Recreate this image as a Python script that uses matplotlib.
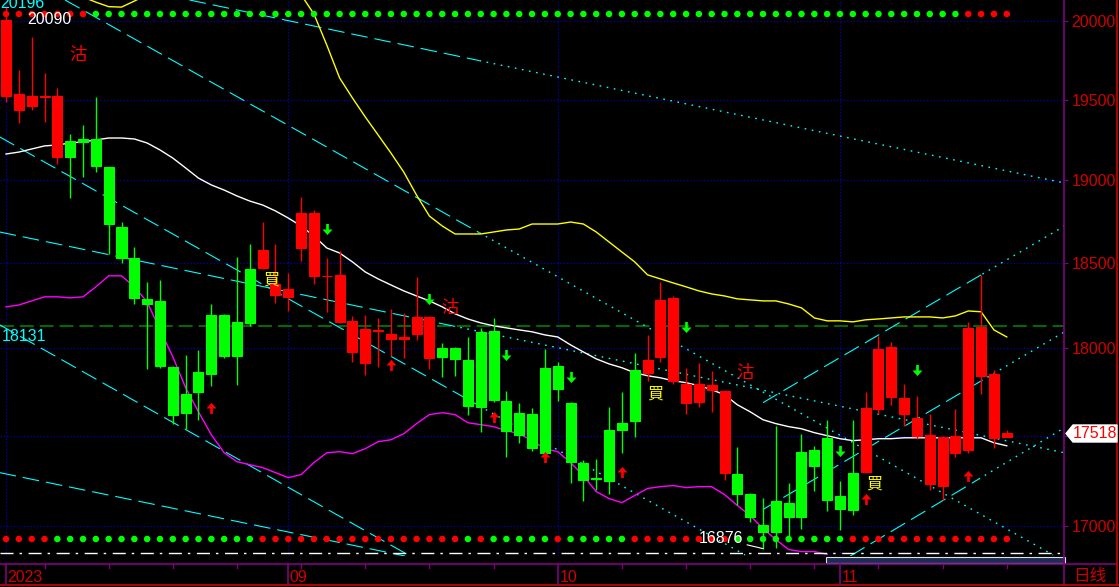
import matplotlib
matplotlib.use("Agg")
import matplotlib.pyplot as plt
import matplotlib.transforms as mtrans
import numpy as np
from matplotlib.lines import Line2D
from matplotlib.patches import Polygon, Rectangle
from matplotlib.path import Path
from matplotlib.ticker import FixedLocator, NullLocator, FuncFormatter

plt.rcParams["lines.scale_dashes"] = False

# ── 数据 ──────────────────────────────────────────────────────────────────────
opens = [19523, 19435, 19460, 19518, 19143, 19243, 19256, 19255, 19082, 18717,
         18532, 18289, 18277, 17893, 17739, 17865, 18195, 18195, 18154, 18466,
         18472, 18313, 18301, 18591, 18425, 18423, 18154, 17979, 17916, 18100,
         18055, 18055, 18084, 17945, 18002, 18002, 17934, 18096, 18101, 17699,
         17631, 17625, 17888, 17899, 17688, 17350, 17262, 17535, 17574, 17876,
         17859, 17951, 17813, 17688, 17694, 17762, 17294, 17289, 17178, 17007,
         17134, 17128, 17411, 17422, 17489, 17167, 17294, 17300, 17654, 17722,
         17625, 17501, 17233, 17222, 17405, 17422, 17842, 17489, 17495]
highs = [20090, 19687, 19897, 19668, 19574, 19286, 19342, 19517, 19082, 18747,
         18597, 18389, 18401, 17900, 17962, 17991, 18259, 18200, 18538, 18615,
         18747, 18615, 18442, 18898, 18820, 18532, 18573, 18189, 18195, 18177,
         18230, 18207, 18419, 18190, 18031, 18008, 18066, 18119, 18177, 17756,
         17688, 17659, 17996, 17922, 17694, 17366, 17372, 17665, 17751, 17974,
         18078, 18389, 18306, 17888, 17916, 17870, 17762, 17439, 17180, 17156,
         17557, 17239, 17512, 17445, 17591, 17250, 17591, 17751, 18072, 18037,
         17796, 17728, 17625, 17500, 17654, 18154, 18431, 17876, 17535]
lows = [19486, 19354, 19435, 19361, 19100, 18892, 19020, 19051, 18555, 18502,
        18259, 17882, 17888, 17569, 17541, 17591, 17785, 17945, 17791, 18131,
        18466, 18265, 18218, 18514, 18377, 18213, 18148, 17922, 17847, 17893,
        17956, 17945, 18049, 17882, 17836, 17842, 17620, 17523, 17694, 17383,
        17461, 17416, 17400, 17699, 17239, 17134, 17200, 17178, 17405, 17495,
        17813, 17922, 17796, 17625, 17665, 17636, 17255, 17112, 17024, 16876,
        16881, 16942, 16985, 17194, 17079, 16980, 17057, 17290, 17625, 17676,
        17557, 17484, 17200, 17145, 17383, 17405, 17739, 17433, 17495]
closes = [20006, 19536, 19523, 19522, 19523, 19143, 19237, 19088, 18735, 18532,
          18295, 18259, 17899, 17620, 17631, 17751, 17853, 17956, 17956, 18148,
          18579, 18377, 18348, 18802, 18802, 18427, 18431, 18160, 18113, 18104,
          18084, 18067, 18183, 18183, 17951, 17939, 17671, 17665, 17705, 17529,
          17506, 17433, 17405, 17768, 17355, 17255, 17258, 17250, 17535, 17586,
          17934, 18283, 18295, 17796, 17796, 17791, 17756, 17178, 17046, 16964,
          16969, 17046, 17046, 17333, 17145, 17090, 17085, 17659, 17996, 18008,
          17716, 17603, 17506, 17495, 17501, 18119, 18125, 17853, 17518]

ma_white = [19162, 19174, 19193, 19212, 19218, 19230, 19237, 19249, 19261, 19261,
            19255, 19230, 19187, 19137, 19076, 19014, 18972, 18941, 18905, 18874,
            18850, 18814, 18771, 18723, 18663, 18591, 18561, 18508, 18448, 18407,
            18371, 18336, 18306, 18277, 18242, 18201, 18171, 18148, 18131, 18119,
            18107, 18096, 18078, 18066, 18020, 17979, 17939, 17910, 17888, 17859,
            17842, 17830, 17813, 17802, 17785, 17762, 17733, 17676, 17636, 17591,
            17569, 17552, 17540, 17518, 17501, 17484, 17473, 17478, 17484, 17484,
            17489, 17489, 17489, 17489, 17489, 17489, 17489, 17461, 17444]
ma_yellow = [20300, 20280, 20260, 20240, 20220, 20190, 20155, 20122, 20093, 20090,
             20129, 20170, 20200, 20220, 20230, 20240, 20250, 20260, 20270, 20270,
             20260, 20250, 20220, 20170, 20045, 19846, 19637, 19511, 19392, 19280,
             19168, 19051, 18910, 18783, 18723, 18675, 18675, 18675, 18687, 18699,
             18705, 18735, 18735, 18735, 18747, 18735, 18687, 18627, 18567, 18508,
             18431, 18407, 18383, 18360, 18336, 18318, 18306, 18289, 18283, 18277,
             18277, 18259, 18236, 18177, 18160, 18160, 18154, 18166, 18171, 18177,
             18183, 18183, 18183, 18177, 18189, 18218, 18213, 18107, 18066]
ma_magenta = [18242, 18253, 18277, 18301, 18301, 18295, 18301, 18360, 18425, 18425,
              18360, 18271, 18107, 17951, 17773, 17636, 17506, 17405, 17355, 17338,
              17322, 17294, 17266, 17283, 17350, 17405, 17411, 17400, 17428, 17467,
              17478, 17512, 17569, 17620, 17631, 17620, 17574, 17563, 17552, 17529,
              17512, 17473, 17428, 17411, 17350, 17277, 17189, 17150, 17128, 17167,
              17206, 17216, 17222, 17211, 17216, 17216, 17172, 17112, 17057, 16985,
              16926, 16871, 16860, 16860, 16845] + [np.nan] * 14

top_signal = "R" * 7 + "G" * 68 + "R" * 4
bottom_signal = ("R" * 4 + "G" * 16 + "R" * 16 + "G" + "R" + "G" * 5 + "R"
                 + "G" * 5 + "R" * 8 + "G" * 9 + "R" * 13)

# 趋势线: (起点序号, 起点价, 终点序号, 终点价, 虚线止于序号)
trend_lines = [
    (4.6, 20136, 81.6, 16842, 36.9),
    (14.3, 20136, 82.5, 18984, 36.9),
    (-0.5, 19268, 57.6, 16842, 36.9),
    (-0.5, 18687, 82.5, 17405, 35.4),
    (-0.5, 17294, 31.1, 16836, None),
    (-0.5, 18137, 31.5, 16836, None),
    (59.0, 17688, 82.5, 18723, 76.1),
    (59.0, 17090, 82.5, 18096, 76.0),
    (65.8, 16836, 82.5, 17546, 75.8),
]

up_idx = [16, 30, 38, 42, 48, 67, 75]
up_price = [17659, 17905, 17608, 17383, 17300, 17150, 17277]
down_idx = [25, 33, 39, 44, 53, 65, 71]
down_price = [18705, 18289, 17962, 17836, 18125, 17416, 17876]

sell_pos = [(5.6, 19783), (34.6, 18236), (57.6, 17859)]
buy_pos = [(20.65, 18401), (50.6, 17739), (67.65, 17233)]

price_levels = [17000, 17500, 18000, 18500, 19000, 19500, 20000]
ref_level = 18131
last_price = closes[-1]
low_mark = (59, 16876)
high_mark = 20090
month_idx = [0, 22, 43, 65]
month_labels = ["2023", "09", "10", "11"]
week_idx = [3, 8, 13, 18, 23, 28, 33, 38, 48, 53, 58, 63, 68, 73, 78]

# ── 样式 ──────────────────────────────────────────────────────────────────────
RED = "#ff0000"
GREEN = "#00ff00"
CYAN = "#00ffff"
PURPLE = "#800080"
AXRED = "#d00000"
BLUE = "#0000e0"
NUM = ["Liberation Sans", "DejaVu Sans"]
CJK = ["Noto Sans CJK SC", "DejaVu Sans"]
NSIZE = 11.5

W, H = 1119, 587
PR, PB = 1064, 556

fig = plt.figure(figsize=(W / 100, H / 100), dpi=100, facecolor="black")
ax = fig.add_axes([0, 1 - PB / H, PR / W, PB / H], facecolor="black")
ax.set_yscale("log")
for s in ax.spines.values():
    s.set_visible(False)


def fp(x, y):
    return x / W, 1 - y / H


n = len(closes)
xs = np.arange(n)

# 网格
for lv in price_levels:
    ax.axhline(lv, color=BLUE, lw=0.8, ls=(0, (0.8, 1.6)), zorder=1)
for m in month_idx:
    ax.axvline(m, color=BLUE, lw=0.8, ls=(0, (0.8, 1.6)), zorder=1)
ax.axhline(ref_level, color="#008000", lw=1.2, ls=(0, (10, 4.3)), zorder=2)

# 趋势线
for i0, p0, i1, p1, cut in trend_lines:
    if cut is None:
        ax.plot([i0, i1], [p0, p1], color=CYAN, lw=0.8, ls=(0, (12, 5)), zorder=2)
        continue
    f = (cut - i0) / (i1 - i0)
    pc = np.exp(np.log(p0) + f * (np.log(p1) - np.log(p0)))
    ax.plot([i0, cut], [p0, pc], color=CYAN, lw=0.8, ls=(0, (12, 5)), zorder=2)
    ax.plot([cut, i1], [pc, p1], color=CYAN, lw=1.0, ls=(0, (1.2, 4)), zorder=2)

# 均线
ax.plot(xs, ma_yellow, color="#ffff00", lw=1.0, zorder=3)
ax.plot(xs, ma_white, color="white", lw=1.0, zorder=3)
ax.plot(xs, ma_magenta, color="#ff00ff", lw=1.0, zorder=3)

# K线
o = np.array(opens)
c = np.array(closes)
cols = [RED if cc >= oo else GREEN for oo, cc in zip(o, c)]
ax.vlines(xs, lows, highs, colors=cols, lw=1.0, zorder=4)
ax.bar(xs, c - o, bottom=o, width=0.78, color=cols, edgecolor=cols, lw=0.8, zorder=5)

# 信号点
blend = mtrans.blended_transform_factory(ax.transData, ax.transAxes)
ax.scatter(xs, [1 - 14 / PB] * n, s=22, c=[RED if k == "R" else GREEN for k in top_signal],
           transform=blend, linewidths=0, zorder=6, clip_on=False)
ax.scatter(xs, [1 - 539 / PB] * n, s=22, c=[RED if k == "R" else GREEN for k in bottom_signal],
           transform=blend, linewidths=0, zorder=6, clip_on=False)
ax.plot([0, 1], [1 - 553 / PB] * 2, transform=ax.transAxes, color="white", lw=1.0,
        ls=(0, (9.4, 4.3, 1.8, 4.7)), zorder=3)

# 箭头
arrow_up = Path([(-0.45, 0.0), (0, 0.5), (0.45, 0.0), (0.12, 0.0), (0.12, -0.5),
                 (-0.12, -0.5), (-0.12, 0.0), (-0.45, 0.0)], closed=True)
arrow_dn = Path([(x, -y) for x, y in arrow_up.vertices], closed=True)
ax.scatter(up_idx, up_price, marker=arrow_up, s=8.0 ** 2, color=RED, linewidths=0, zorder=7)
ax.scatter(down_idx, down_price, marker=arrow_dn, s=8.0 ** 2, color=GREEN, linewidths=0, zorder=7)

for x, y in sell_pos:
    ax.text(x, y, "沽", color=RED, fontsize=12.5, family=CJK, ha="center", va="center", zorder=8)
for x, y in buy_pos:
    ax.text(x, y, "買", color="#ffff00", fontsize=11.5, family=CJK, ha="center", va="center",
            zorder=8)

# 高低点标注
ax.text(3.35, 20013, f"{high_mark}", color="white", fontsize=NSIZE, family=NUM,
        ha="center", va="center", zorder=8)
ax.annotate(f"{low_mark[1]}", xy=low_mark, xytext=(55.7, 16931), color="white",
            fontsize=NSIZE, family=NUM, ha="center", va="center", zorder=8,
            arrowprops=dict(arrowstyle="-", color="white", lw=0.8, shrinkA=1, shrinkB=0))
ax.annotate(f"{ref_level}", xy=(0, ref_level),
            xycoords=mtrans.blended_transform_factory(ax.transAxes, ax.transData),
            xytext=(1.5, -8), textcoords="offset points", color=CYAN, fontsize=NSIZE,
            family=NUM, ha="left", va="center", zorder=8)
fig.text(*fp(0, 4), "20196", color=CYAN, fontsize=NSIZE, family=NUM, ha="left", va="center")

ax.set_xlim(-0.47, 82.46)
ax.set_ylim(16836, 20136)

# 右侧价格轴
ax.yaxis.tick_right()
ax.yaxis.set_major_locator(FixedLocator(price_levels))
ax.yaxis.set_minor_locator(NullLocator())
ax.yaxis.set_major_formatter(FuncFormatter(lambda v, _: f"{v:.0f}"))
ax.tick_params(axis="y", which="major", length=3, width=0.8, color=PURPLE,
               labelcolor=AXRED, labelsize=NSIZE, pad=2.5, labelfontfamily=NUM[0])
ax.set_xticks([])

# 边框与底部时间轴
frame = [
    ((PR, 0), (PR, 585), PURPLE),
    ((0, 564), (1117, 564), PURPLE),
    ((0, 585), (1119, 585), AXRED),
    ((1117, 0), (1117, 585), AXRED),
]
for (x0, y0), (x1, y1), col in frame:
    fig.add_artist(Line2D([x0 / W, x1 / W], [1 - y0 / H, 1 - y1 / H], color=col, lw=1.2,
                          transform=fig.transFigure))

bx = mtrans.blended_transform_factory(ax.transData, fig.transFigure)
for m, lab in zip(month_idx, month_labels):
    fig.add_artist(Line2D([m, m], [1 - 564 / H, 1 - 585 / H], color=PURPLE, lw=1.2,
                          transform=bx))
    fig.text(m + 0.12, 1 - 578 / H, lab, color=AXRED, fontsize=NSIZE, family=NUM,
             ha="left", va="center", transform=bx)
for w in week_idx:
    fig.add_artist(Line2D([w, w], [1 - 564 / H, 1 - 568 / H], color=PURPLE, lw=1.0,
                          transform=bx))
fig.text(*fp(1090, 576), "日线", color=AXRED, fontsize=12, family=CJK, ha="center",
         va="center")

# 滚动条
fig.add_artist(Rectangle(fp(826, 563), 239 / W, 6 / H, transform=fig.transFigure,
                         facecolor="#1c2d55", edgecolor="#e0e0e0", lw=0.8))

# 最新价标签
tag = [fp(1066, 433.5), fp(1073, 425), fp(1117, 425), fp(1117, 442), fp(1073, 442)]
fig.add_artist(Polygon(tag, closed=True, transform=fig.transFigure, facecolor="white",
                       edgecolor="white", zorder=10))
fig.text(*fp(1095, 434), f"{last_price}", color=RED, fontsize=NSIZE, family=NUM,
         ha="center", va="center", zorder=11)

fig.savefig("out.png", dpi=100, facecolor="black")
